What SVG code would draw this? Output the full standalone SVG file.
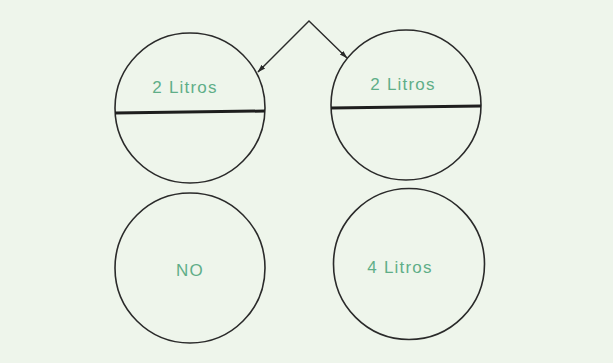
<svg xmlns="http://www.w3.org/2000/svg" width="613" height="363" viewBox="0 0 613 363">
<style>
.c{fill:none;stroke:#2a2a2a;stroke-width:1.6}
.d{stroke:#1e1e1e;stroke-width:3}
.t{font-family:"Liberation Sans",Arial,sans-serif;font-size:17px;fill:#5fae88;letter-spacing:1.2px;text-anchor:middle}
.e{fill:none;stroke:#2a2a2a;stroke-width:1.4}
</style>
<defs>
<marker id="a" viewBox="0 0 10 10" refX="9" refY="5" markerWidth="6" markerHeight="6" orient="auto-start-reverse"><path d="M0,2 L10,5 L0,8 z" fill="#2a2a2a"/></marker>
</defs>
<rect width="613" height="363" fill="#eef5eb"/>
<g id="connectors">
<path class="e" d="M258,72 L309,21 L347,58" marker-start="url(#a)" marker-end="url(#a)"/>
</g>
<g id="n1">
<circle class="c" cx="190" cy="108" r="75"/>
<line class="d" x1="115" y1="113" x2="265" y2="111"/>
<text class="t" x="185" y="93">2 Litros</text>
</g>
<g id="n2">
<circle class="c" cx="406" cy="105" r="75"/>
<line class="d" x1="331" y1="108" x2="481" y2="106"/>
<text class="t" x="403" y="90">2 Litros</text>
</g>
<g id="n3">
<circle class="c" cx="190" cy="268" r="75"/>
<text class="t" x="190" y="276">NO</text>
</g>
<g id="n4">
<circle class="c" cx="409" cy="264" r="75.5"/>
<text class="t" x="400" y="273">4 Litros</text>
</g>
</svg>
